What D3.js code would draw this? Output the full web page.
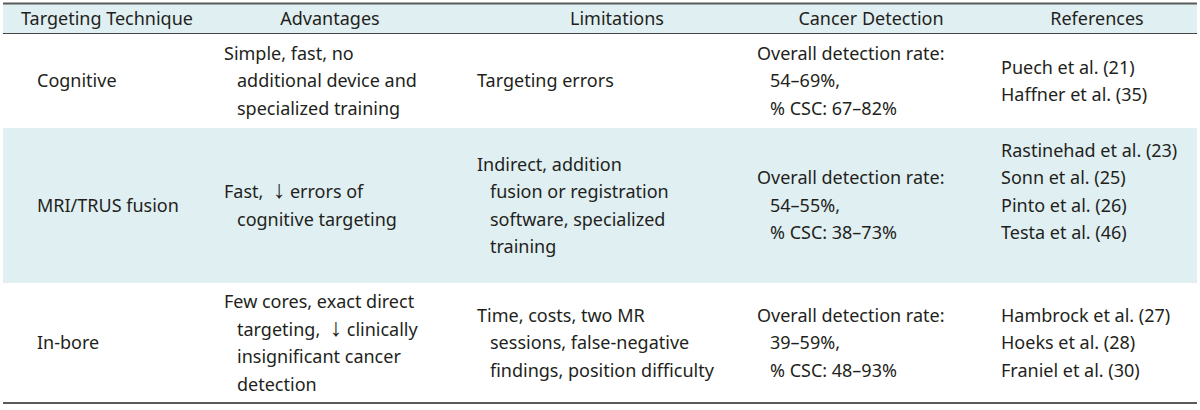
<!DOCTYPE html>
<html>
<head>
<meta charset="utf-8">
<script src="https://cdn.jsdelivr.net/npm/d3@7"></script>
<style>
	body { margin: 0; background: #fff; }
	svg text { font-family: "Noto Sans", sans-serif; font-size: 18px; fill: #231f20; }
	svg tspan.arrow { font-family: "Liberation Sans", sans-serif; font-size: 25px; }
</style>
</head>
<body>
<div id="table"></div>
<script>
// Table content, one array per column
const headers = ['Targeting Technique', 'Advantages', 'Limitations', 'Cancer Detection', 'References'];

const techniques = ['Cognitive', 'MRI/TRUS fusion', 'In-bore'];

const advantages = [
	['Simple, fast, no', 'additional device and', 'specialized training'],
	['Fast,  \u2193 errors of', 'cognitive targeting'],
	['Few cores, exact direct', 'targeting,  \u2193 clinically', 'insignificant cancer', 'detection']
];

const limitations = [
	['Targeting errors'],
	['Indirect, addition', 'fusion or registration', 'software, specialized', 'training'],
	['Time, costs, two MR', 'sessions, false-negative', 'findings, position difficulty']
];

const detection = [
	['Overall detection rate:', '54\u201369%,', '% CSC: 67\u201382%'],
	['Overall detection rate:', '54\u201355%,', '% CSC: 38\u201373%'],
	['Overall detection rate:', '39\u201359%,', '% CSC: 48\u201393%']
];

// the fusion row carries an empty trailing line in the references cell
const references = [
	['Puech et al. (21)', 'Haffner et al. (35)'],
	['Rastinehad et al. (23)', 'Sonn et al. (25)', 'Pinto et al. (26)', 'Testa et al. (46)', ''],
	['Hambrock et al. (27)', 'Hoeks et al. (28)', 'Franiel et al. (30)']
];

function drawTable(container) {
	const width = 1200,
		height = 410,
		left = 3,
		right = 1197,
		top = 3.5,
		headBottom = 34,
		lineH = 27.5,
		indent = 13,
		rowPad = [11.5, 17.5, 10],
		fill = '#e0eff2';

	// column layout: header centre, body text x, hanging indent or not
	const cols = [
		{head: 107, x: 37, hang: false},
		{head: 330, x: 224, hang: true},
		{head: 617, x: 477, hang: true},
		{head: 871, x: 757, hang: true},
		{head: 1097, x: 1001, hang: false}
	];

	const cells = techniques.map((t, i) => [[t], advantages[i], limitations[i], detection[i], references[i]]);
	const lineCount = cells.map(row => d3.max(row, c => c.length));

	// row height = its tallest cell plus padding
	const units = lineCount.map((n, i) => n * lineH + rowPad[i]);
	const cum = [0].concat(Array.from(d3.cumsum(units)));
	const y = d3.scaleLinear()
		.domain([0, d3.sum(units)])
		.range([headBottom, headBottom + d3.sum(units)]);
	const bottom = y(d3.sum(units));

	const svg = d3.select(container)
		.append('svg')
			.attr('width', width)
			.attr('height', height);

	// header band
	svg.append('rect')
		.attr('x', left)
		.attr('y', top)
		.attr('width', right - left)
		.attr('height', headBottom - top)
		.style('fill', fill);

	// shaded body rows
	svg.selectAll('rect.row')
		.data(cells)
		.enter()
		.append('rect')
			.classed('row', true)
			.attr('x', left)
			.attr('y', (d, i) => y(cum[i]))
			.attr('width', right - left)
			.attr('height', (d, i) => y(cum[i + 1]) - y(cum[i]))
			.style('fill', (d, i) => i % 2 === 1 ? fill : '#fff');

	svg.selectAll('text.head')
		.data(headers)
		.enter()
		.append('text')
			.classed('head', true)
			.attr('x', (d, i) => cols[i].head)
			.attr('y', (top + headBottom) / 2 + 6.4)
			.attr('text-anchor', 'middle')
			.text(d => d);

	cells.forEach((row, r) => {
		const mid = (y(cum[r]) + y(cum[r + 1])) / 2;
		row.forEach((lines, c) => {
			const first = mid - (lines.length - 1) / 2 * lineH;
			const txt = svg.append('g')
				.selectAll('text')
				.data(lines)
				.enter()
				.append('text')
					.attr('x', (d, k) => cols[c].x + (cols[c].hang && k > 0 ? indent : 0))
					.attr('y', (d, k) => first + k * lineH + 6.4)
					.style('white-space', 'pre');

			// split round the arrow so it can take its own face
			txt.each(function(d) {
				const parts = d.split('\u2193');
				const t = d3.select(this);
				parts.forEach((p, j) => {
					if (j > 0) t.append('tspan').classed('arrow', true).text('\u2193');
					t.append('tspan').text(p);
				});
			});
		});
	});

	// rules
	svg.append('line')
		.attr('x1', left).attr('x2', right)
		.attr('y1', top).attr('y2', top)
		.style('stroke', '#5a5a5a')
		.style('stroke-width', 2);
	svg.append('line')
		.attr('x1', left).attr('x2', right)
		.attr('y1', headBottom - 0.5).attr('y2', headBottom - 0.5)
		.style('stroke', '#444')
		.style('stroke-width', 1);
	svg.append('line')
		.attr('x1', left).attr('x2', right)
		.attr('y1', bottom).attr('y2', bottom)
		.style('stroke', '#5a5a5a')
		.style('stroke-width', 2);
}

drawTable('#table');
</script>
</body>
</html>
